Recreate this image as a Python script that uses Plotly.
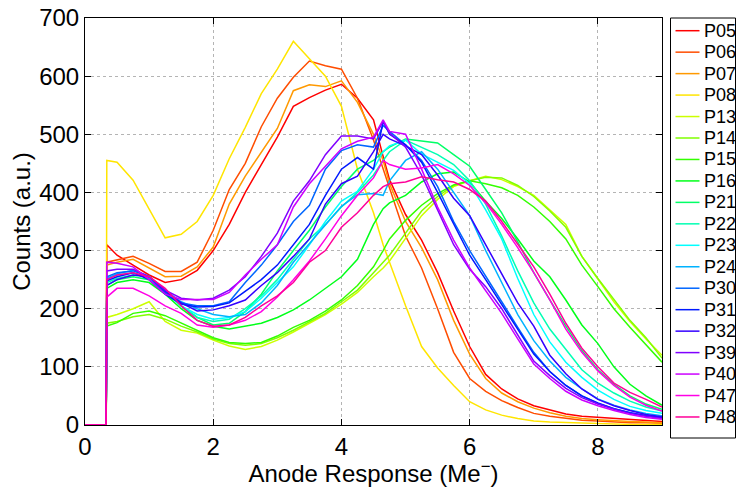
import colorsys
import plotly.graph_objects as go

# x grid (Anode Response, Me-)
x = [0, 0.33, 0.34, 0.5, 0.75, 1.0, 1.25, 1.5, 1.75, 2.0, 2.25, 2.5, 2.75,
     3.0, 3.25, 3.5, 3.75, 4.0, 4.25, 4.5, 4.65, 4.75, 5.0, 5.25, 5.5, 5.75,
     6.0, 6.25, 6.5, 6.75, 7.0, 7.25, 7.5, 7.75, 8.0, 8.25, 8.5, 8.75, 9.0]

names = ["P05", "P06", "P07", "P08", "P13", "P14", "P15", "P16", "P21", "P22",
         "P23", "P24", "P30", "P31", "P32", "P39", "P40", "P47", "P48"]

p05 = [0, 0, 310, 292, 275, 258, 245, 250, 266, 300, 345, 400, 448, 495, 548, 563, 576, 586, 562, 525, 462, 422, 362,
       318, 262, 196, 135, 87, 62, 45, 33, 26, 19, 15, 13, 11, 9, 7, 6]
p06 = [0, 0, 280, 284, 290, 278, 264, 264, 280, 335, 405, 450, 513, 562, 598, 626, 618, 612, 562, 490, 440, 405, 325,
       270, 200, 125, 80, 58, 42, 30, 20, 15, 11, 8, 7, 5, 4, 4, 3]
p07 = [0, 0, 275, 280, 285, 270, 255, 256, 272, 306, 380, 428, 470, 510, 575, 585, 582, 592, 555, 500, 455, 415, 350,
       305, 250, 180, 122, 80, 55, 40, 29, 21, 15, 11, 9, 7, 6, 5, 4]
p08 = [0, 0, 455, 452, 421, 372, 322, 328, 350, 395, 458, 512, 570, 612, 660, 630, 600, 548, 440, 365, 310, 280, 205,
       135, 98, 68, 40, 26, 17, 11, 7, 5, 4, 3, 2, 2, 1, 1, 1]
p13 = [0, 0, 185, 190, 200, 212, 178, 163, 158, 146, 136, 130, 135, 146, 160, 175, 190, 208, 228, 255, 270, 282, 322,
       360, 388, 410, 420, 428, 422, 410, 395, 370, 345, 290, 250, 212, 178, 148, 120]
p14 = [0, 0, 175, 178, 186, 190, 182, 170, 160, 148, 140, 137, 140, 150, 163, 178, 192, 212, 232, 262, 280, 292, 330,
       368, 393, 412, 420, 426, 425, 412, 393, 368, 340, 290, 252, 215, 180, 150, 115]
p15 = [0, 0, 170, 176, 192, 196, 188, 175, 163, 150, 142, 140, 142, 153, 168, 180, 196, 215, 240, 272, 300, 320, 352,
       378, 398, 413, 420, 415, 408, 395, 375, 350, 320, 275, 238, 200, 168, 138, 108]
p16 = [0, 0, 235, 245, 250, 245, 225, 200, 180, 170, 165, 170, 175, 185, 198, 215, 235, 255, 285, 345, 372, 382, 395,
       418, 432, 435, 418, 385, 355, 320, 282, 255, 215, 172, 140, 100, 70, 50, 34]
p21 = [0, 0, 240, 250, 255, 250, 228, 205, 185, 172, 175, 195, 225, 265, 300, 335, 375, 410, 440, 455, 470, 478, 492,
       488, 485, 465, 445, 405, 365, 315, 262, 215, 170, 128, 95, 70, 50, 36, 27]
p22 = [0, 0, 245, 252, 258, 255, 232, 205, 185, 178, 182, 200, 222, 250, 285, 320, 345, 375, 400, 430, 455, 470, 490,
       478, 465, 448, 420, 380, 325, 265, 210, 165, 130, 95, 72, 55, 41, 31, 24]
p23 = [0, 0, 250, 258, 262, 252, 230, 205, 190, 182, 185, 195, 218, 245, 272, 310, 350, 385, 402, 440, 470, 480, 490,
       466, 452, 438, 415, 370, 320, 252, 190, 143, 108, 82, 60, 44, 32, 25, 20]
p24 = [0, 0, 252, 260, 266, 256, 232, 212, 200, 190, 186, 190, 210, 240, 280, 312, 345, 376, 396, 398, 395, 420, 455,
       470, 440, 400, 360, 300, 245, 190, 145, 110, 82, 62, 45, 34, 26, 20, 16]
p30 = [0, 0, 255, 262, 265, 255, 228, 210, 205, 205, 212, 245, 275, 310, 350, 378, 440, 472, 482, 478, 515, 505, 482,
       455, 410, 350, 300, 255, 212, 168, 125, 92, 68, 50, 37, 28, 21, 16, 13]
p31 = [0, 0, 248, 255, 262, 250, 225, 208, 203, 204, 210, 230, 250, 275, 310, 345, 395, 440, 460, 440, 522, 500, 482,
       452, 400, 345, 292, 250, 208, 165, 122, 92, 68, 50, 38, 28, 21, 16, 13]
p32 = [0, 0, 240, 250, 258, 255, 230, 210, 196, 198, 205, 215, 240, 262, 290, 320, 380, 415, 428, 470, 500, 492, 480,
       465, 430, 390, 360, 310, 258, 210, 170, 120, 88, 62, 44, 33, 25, 18, 14]
p39 = [0, 0, 265, 268, 268, 255, 232, 218, 215, 218, 232, 255, 290, 330, 385, 420, 465, 497, 497, 492, 522, 502, 478,
       430, 370, 310, 268, 238, 200, 155, 110, 85, 63, 47, 36, 27, 20, 15, 11]
p40 = [0, 0, 280, 278, 272, 250, 225, 216, 216, 216, 228, 258, 285, 310, 375, 415, 445, 475, 488, 495, 525, 505, 500,
       440, 375, 318, 270, 232, 192, 148, 105, 80, 58, 43, 33, 25, 18, 13, 10]
p47 = [0, 0, 220, 235, 235, 222, 205, 192, 172, 168, 172, 180, 195, 220, 250, 282, 320, 360, 395, 425, 455, 448, 440,
       442, 448, 432, 412, 382, 345, 305, 262, 215, 165, 125, 93, 68, 48, 34, 24]
p48 = [0, 0, 250, 258, 262, 255, 235, 205, 180, 170, 172, 185, 205, 222, 245, 280, 300, 340, 365, 395, 410, 415, 418,
       427, 422, 418, 405, 385, 350, 312, 272, 225, 175, 132, 100, 72, 56, 44, 31]

series = [p05, p06, p07, p08, p13, p14, p15, p16, p21, p22,
          p23, p24, p30, p31, p32, p39, p40, p47, p48]

x_ticks = [0, 2, 4, 6, 8]
y_ticks = [0, 100, 200, 300, 400, 500, 600, 700]

W, H = 737, 487
ML, MR, MT, MB = 85, 75, 18, 62
PW, PH = W - ML - MR, H - MT - MB


def hsv_color(i, n=20):
    r, g, b = colorsys.hsv_to_rgb(i / n, 1.0, 1.0)
    return "rgb(%d,%d,%d)" % (round(r * 255), round(g * 255), round(b * 255))


def px_to_paper(px, py):
    return (px - ML) / PW, (H - MB - py) / PH


colors = [hsv_color(i) for i in range(len(names))]

fig = go.Figure()
for nm, ys, c in zip(names, series, colors):
    fig.add_trace(go.Scatter(x=x, y=ys, mode="lines", name=nm, showlegend=False,
                             line=dict(color=c, width=1.5)))

FONT = "Liberation Sans, Arial, Helvetica, sans-serif"
axis_common = dict(showline=True, linecolor="black", linewidth=1, mirror="ticks",
                   ticks="inside", ticklen=6, tickcolor="black", tickwidth=1,
                   showgrid=True, gridcolor="#b4b4b4", griddash="dot", gridwidth=1,
                   zeroline=False, tickfont=dict(size=24, color="black", family=FONT))

fig.update_xaxes(range=[0, 9], tickvals=x_ticks, ticktext=[str(t) for t in x_ticks],
                 title=dict(text="Anode Response (Me<sup>−</sup>)", font=dict(size=24, family=FONT, color="black"),
                            standoff=3),
                 **axis_common)
fig.update_yaxes(range=[0, 700], tickvals=y_ticks, ticktext=[str(t) for t in y_ticks],
                 title=dict(text="Counts (a.u.)", font=dict(size=24, family=FONT, color="black"),
                            standoff=1),
                 **axis_common)

# legend box drawn in pixel-derived paper coordinates
shapes = []
annotations = []
bx0, by0 = px_to_paper(670.5, 18)
bx1, by1 = px_to_paper(735.5, 438)
shapes.append(dict(type="rect", xref="paper", yref="paper", x0=bx0, y0=by1, x1=bx1, y1=by0,
                   line=dict(color="black", width=1), fillcolor="white", layer="above"))
row0, step = 30.7, 21.46
for i, (nm, c) in enumerate(zip(names, colors)):
    yy = row0 + step * i
    lx0, ly = px_to_paper(675.5, yy)
    lx1, _ = px_to_paper(699.5, yy)
    shapes.append(dict(type="line", xref="paper", yref="paper", x0=lx0, x1=lx1, y0=ly, y1=ly,
                       line=dict(color=c, width=1.5), layer="above"))
    tx, _ = px_to_paper(701.5, yy)
    annotations.append(dict(text=nm, xref="paper", yref="paper", x=tx, y=ly, xanchor="left",
                            yanchor="middle", showarrow=False,
                            font=dict(size=18, family=FONT, color="black")))

fig.update_layout(
    width=W, height=H,
    margin=dict(l=ML, r=MR, t=MT, b=MB, autoexpand=False),
    plot_bgcolor="white", paper_bgcolor="white",
    font=dict(family=FONT, color="black"),
    showlegend=False,
    shapes=shapes, annotations=annotations,
)

fig.write_html("out.html")
